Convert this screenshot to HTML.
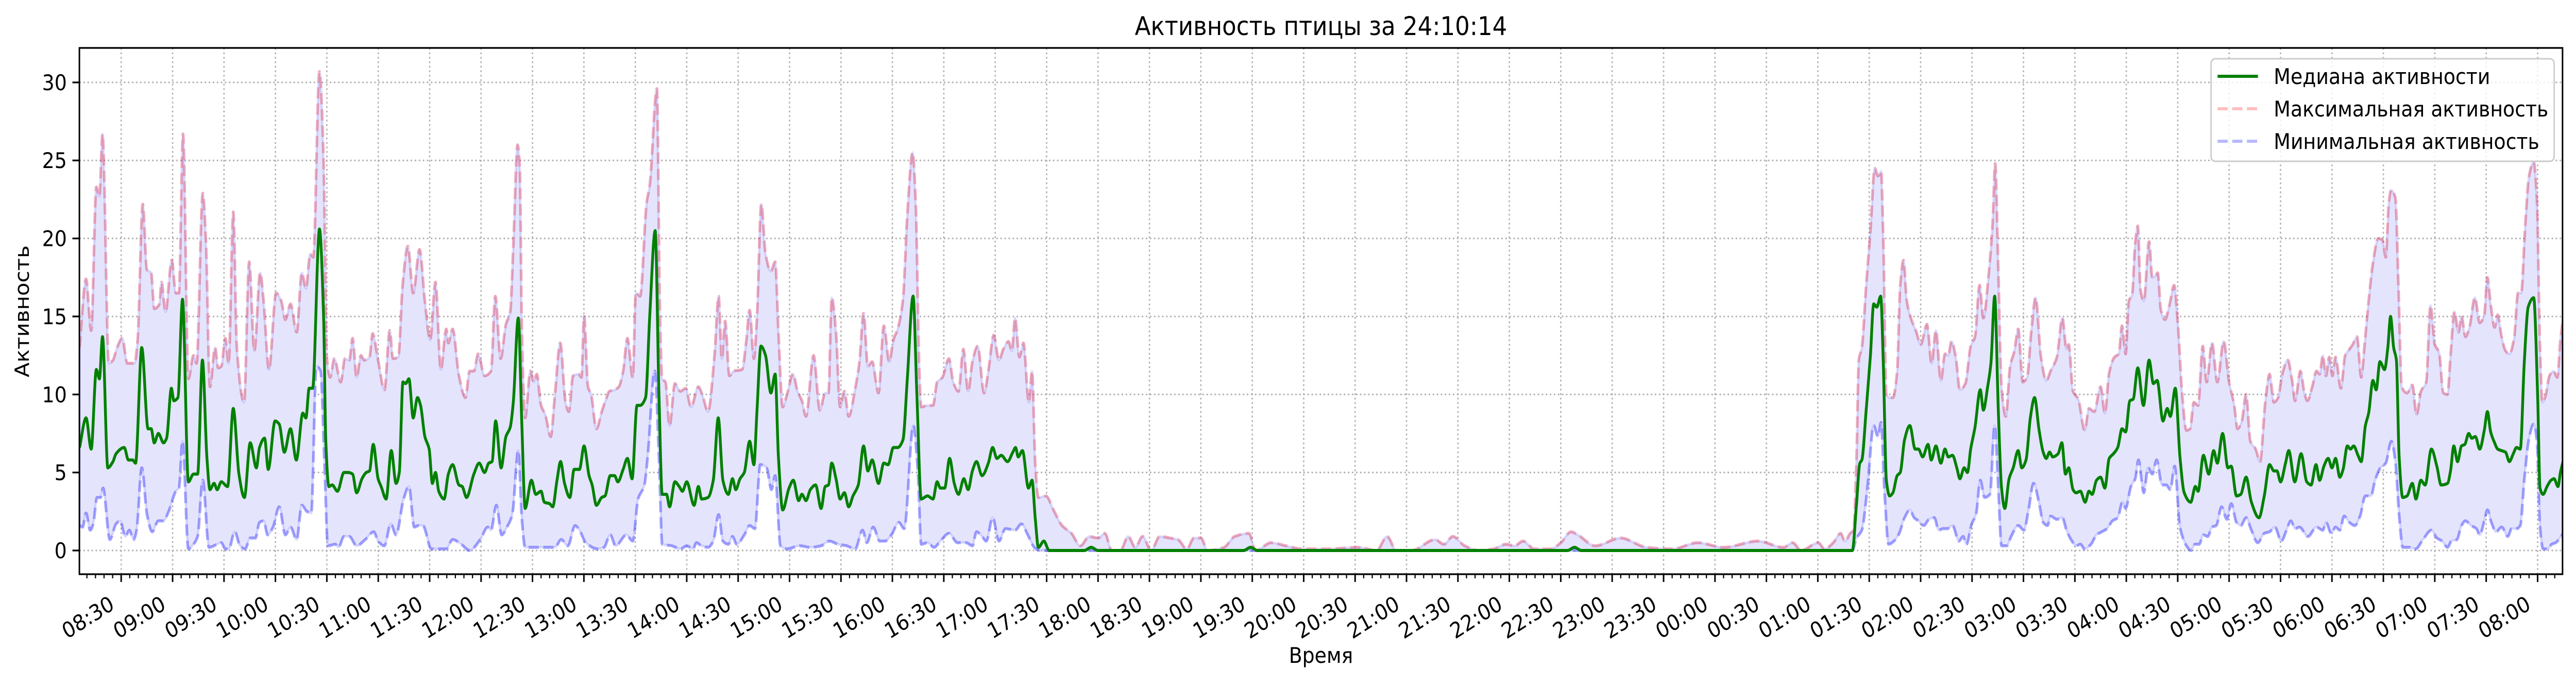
<!DOCTYPE html>
<html><head><meta charset="utf-8"><style>
html,body{margin:0;padding:0;background:#fff;width:100%;height:100%;overflow:hidden;}
svg{display:block;position:fixed;left:0;top:0;width:100vw;height:100vh;font-family:"DejaVu Sans","Liberation Sans",sans-serif;}
</style></head><body>
<svg id="chart" viewBox="0 0 5548 1327" preserveAspectRatio="none" xmlns="http://www.w3.org/2000/svg">
<rect x="0" y="0" width="5548" height="1327" fill="#fff"/>
<defs><clipPath id="plotclip"><rect x="171" y="93" width="5348" height="1021"/></clipPath></defs>
<g id="grid"></g>
<g id="series" clip-path="url(#plotclip)"></g>
<g id="axes"></g>
<text x="2845" y="68" font-size="50" text-anchor="middle">Активность птицы за 24:10:14</text>
<text x="2845" y="1286" font-size="42" text-anchor="middle">Время</text>
<text x="0" y="0" font-size="42" text-anchor="middle" transform="translate(62,604) rotate(-90)">Активность</text>
<g id="legend">
<rect x="4762" y="114" width="739" height="199" rx="9" fill="#fff" fill-opacity="0.8" stroke="#cccccc" stroke-width="3"/>
<line x1="4776" y1="148" x2="4863" y2="148" stroke="green" stroke-width="6"/>
<text x="4897" y="163" font-size="42">Медиана активности</text>
<line x1="4776" y1="211" x2="4863" y2="211" stroke="rgba(255,0,0,0.25)" stroke-width="6" stroke-dasharray="22,9.6"/>
<text x="4897" y="226" font-size="42">Максимальная активность</text>
<line x1="4776" y1="274" x2="4863" y2="274" stroke="rgba(0,0,255,0.28)" stroke-width="6" stroke-dasharray="22,9.6"/>
<text x="4897" y="289" font-size="42">Минимальная активность</text>
</g>
</svg>
<script>
// time in minutes since 08:00 of day 1
const maxT = [5.7,9.5,12.5,15.5,17.3,19.1,22.8,25.2,27.6,30.6,33.6,37.8,39.6,42.6,45,47.5,49.3,52.3,53.5,55.9,59.5,61.9,63.7,66.1,69.2,72.2,74,77.6,79.4,81.8,84.8,86.6,88.4,90.8,92.7,95.4,97.5,101.7,104.7,107.7,111.1,113.1,116.2,120.4,123.4,125.8,128.8,132.4,135.4,137.8,140.3,142.1,145.7,148.1,150,151.9,154.4,158.1,160.6,163.1,165,167.4,169.9,171.8,174.9,176.7,179.9,183.6,186.7,188.6,191.7,194.2,197.3,200.4,204.1,207.2,210.3,213.4,216.5,219.7,220.9,223.4,227.1,230.9,233.3,235.8,238.3,242,245.8,248.3,251.4,254.5,257,258.8,261.3,262.6,263.8,265.7,268.8,270.7,272.5,275,277.5,280.6,283.1,286.2,289.3,291.2,293.7,296.8,298.6,300.1,302.4,304.2,307.3,310.4,312.9,314.8,317.9,320.4,322.9,325.4,328.5,330.3,332.8,336.6,338.4,342.6,344.4,345.7,347.6,350,353.1,356.3,359.4,362.5,366.8,369.3,372.4,376.2,378.6,380.5,382.4,384.9,387.4,392.3,394.8,396.7,399.2,401,403.5,406,409.1,411.6,413.5,416,418.5,422,424.7,427.2,429.6,434,437.7,440.8,442.7,444.6,447.1,449.5,452,454.5,458.3,460.7,463.2,465.7,468.2,471.9,475,478.2,480.6,483.1,486.2,488.7,491.8,493.7,495.6,496.8,500.5,503.7,506.1,509.2,513,515.5,518.6,521.4,524.2,526.7,529.8,533.5,536,539.1,542.2,544.7,547.8,549.7,551.6,554.1,556.5,559.6,561.5,563.4,565.2,569.6,574,579,584.5,589.7,594.8,600,604,608,613,617.6,621.7,626,631,636,642,646.6,651.8,656,660,664,673.5,679.7,688,692,701,709.7,719,733.5,752,762.5,768.7,774,783,796.7,801.8,807,814,822.5,830.8,838,843,848,854.6,864,870,876,880,890,905,920,935,950,965,985,1000,1005.3,1010.3,1020.2,1024,1029,1033.3,1035.8,1038.9,1040.8,1042.6,1043.9,1045.7,1048.2,1050.7,1053.2,1055.1,1056.9,1058.2,1060,1061.9,1063.8,1066.3,1068.1,1070,1071.9,1074.3,1077.5,1080,1083.7,1086.4,1088.9,1091.8,1094.2,1096.1,1098,1100.5,1102.9,1106.1,1109.2,1111.7,1114.4,1116.6,1119.7,1122,1123.5,1125.3,1127.2,1129.7,1132.2,1134.7,1136.9,1139.6,1142.1,1144.6,1147.1,1150.2,1153.3,1155.8,1159.5,1162.7,1165.1,1166.4,1168.9,1172,1175.7,1178.2,1181.3,1185,1187.5,1190,1193.1,1195.6,1197.5,1199.6,1201.5,1203.4,1205.2,1206.7,1208.3,1210.2,1213.3,1215.2,1217,1218.3,1220.2,1222.6,1225.1,1227.9,1230.1,1232.6,1235.1,1237.2,1239.4,1241.9,1244.6,1246.9,1250,1253.1,1256.8,1260,1263,1264.9,1267.4,1269.9,1272.4,1275.5,1278,1281.1,1283.6,1286.1,1288.6,1291,1294.2,1296.6,1298.5,1301.6,1304.1,1305.7,1308.5,1311,1312.8,1314.7,1316.5,1318.4,1320.3,1322.1,1325.2,1327.7,1330.2,1332.1,1334.6,1337.1,1338.9,1341.4,1343.9,1347,1349.5,1351.4,1353.2,1354.5,1357,1358.8,1360.7,1363.8,1366.9,1369.4,1371.9,1375,1377.5,1380,1382.5,1385,1387.4,1389.2,1391.5,1393.8,1395.6,1397.9,1400.2,1403.4,1406.2,1408.9,1410.7,1412.6,1414.9,1416.7,1419,1421.3,1423.5,1426.3,1428.6,1430.4,1432.7,1435,1437.7,1439.6,1441.4,1442.8,1444.6,1446.9,1449.2,1451.5,1453.3,1455.1];
const maxV = [13,17.4,14.1,23.3,22.7,26.7,12,12.2,13,13.6,12,12,13.5,22.2,18,17.8,15.5,15.8,17.2,15.3,18.6,16.5,16.5,26.7,11,12.5,12,22.9,20,10.5,13,11.7,11.8,13.6,12,21.7,13,9.5,18.5,12.8,17.8,16,11.6,16.5,16,14.8,15.8,14,17.8,16.8,19,18.8,30.7,25,12.4,11.1,12.3,10.8,12.3,12.2,13.6,11.1,12.5,12.2,12.4,13.9,12.2,10.3,14.1,12.3,12.4,17,19.5,16.5,19.3,16,13.5,17.2,11.6,14.2,13.3,14.2,11.2,9.8,11.5,11.5,12.6,11.2,11.5,16.3,12.3,14.5,15.3,19.5,26,24.5,14,8.5,11.5,10.8,11.3,9.3,8.7,7.3,10,13.3,9.5,8.9,11.2,11.3,11.1,15,10.5,10,7.8,8.9,9.7,10.2,10.3,10.5,11.5,13.6,11.1,16.5,16.3,22.3,23.4,29.6,15,11,10.8,8,10.7,10.2,10.4,9.2,10.5,9.9,8.9,12.5,16.3,12.3,14.7,11.2,11.5,11.6,13.5,15.4,12.3,15,22.2,19,17.9,18.5,14,9.2,10,11.3,10.2,9.6,8.6,12.5,9,10.1,10.1,16.2,14,9.2,10.2,8.6,10.4,12,15.2,11.8,12.1,10.1,14.4,12.1,13.5,14.2,16.1,21.5,25.5,22,12,9.2,9.3,9.3,10.8,11.1,12.3,10.8,10.2,12.9,10.2,12.1,13.1,10.1,11.5,13.8,12.2,12.9,13.4,12.8,14.9,12.4,13.3,9.5,11.5,5.5,3.4,3.5,2.6,1.6,1.1,0.3,0.9,0.8,1.1,0,0,0.9,0.2,0.9,0,0.9,0.8,0.7,0.1,0.8,0.8,0,0.2,0.9,1.1,0,0.5,0.3,0.1,0.1,0.2,0,0.9,0,0,0.7,0.4,0.9,0.3,0,0.1,0.4,0.3,0.6,0.1,0.1,0.5,1.2,1,0.3,0.8,0.2,0.1,0.5,0.2,0.6,0.2,0.5,0,0.5,0.1,0.5,1.1,0.6,1.1,1.3,6,12.2,13,17,20.5,24.5,24,24.3,20,10,9.8,9.8,11.5,17,18.6,16,14.9,14,13.2,14.5,12,14.1,10.9,12.6,12.5,13.4,12.4,10.3,10.7,13.1,13.7,17,14.9,17.7,21,24.8,18,10.5,8.6,11.8,12.8,14.2,10.8,11.1,14.1,16.2,12.4,10.9,11.5,12.4,14.9,12.9,13.2,10.2,9.7,7.7,9.1,8.9,10.5,8.8,11.4,12.4,12.6,14.4,12.6,16,16.4,19.7,20.8,16.7,16,19.8,17.5,17.6,17.8,15.4,14.8,15.7,17,14.5,10,7.7,7.8,9.5,9.3,13.1,10.8,13.3,10.8,13.4,10.8,9.3,7.8,8.3,10,7,6.5,5.7,9.5,11.3,9.5,9.8,11.3,12.2,11,9.6,11.5,10,9.6,10.5,11.5,11.3,12.5,11.2,12.4,11.2,12.4,10.4,12.5,12.9,13.2,13.7,11.1,13,16,18.4,20,19.9,18.8,22.3,23.1,22.6,17,10.5,10.1,10.6,8.7,10.2,10.8,15.7,13.2,12.7,10.1,10,12.5,15.3,14,15,13.7,14.3,16.2,14.6,15.1,17.5,15.8,14.3,15.1,13.7,12.8,12.6,13.6,16.5,16.5,20.7,24,24.9,22.5,13,9.5,9.9,11.2,11.5,11.1,13.5,15.1];

const medT = [5.7,9.5,12.5,15.5,17.3,19.1,22.2,25.2,27,31.8,34.2,36.6,38.4,42,45.7,47.5,49.3,51.7,54.7,56.5,59.3,60.7,63.1,65.8,69.2,72.2,74.6,77.4,80,81.8,84.2,86,88.4,92.1,95.4,98.7,101.9,105.3,108.9,110.7,113.7,115.8,119.8,122.2,125.2,128.8,132.2,136,137.8,139.7,141.7,145.7,148.1,149.4,151.2,153.1,156.2,160,162.4,165,167.4,170.5,173,174.9,177.1,179.9,181.7,184.6,187.6,190.4,192.3,194.4,196,197.9,200.4,202.9,204.7,207.2,209.7,211.6,213.4,215.3,218.4,220.9,223.4,227.1,229,231.5,235.8,238.9,242,244.5,246.4,248.5,251.7,254.5,257,258.8,261.7,263.8,265.7,269.4,271.9,275,276.9,280,281.8,284.3,286.4,288.7,291.8,294.3,297.4,300.1,303,304.8,307.3,310.4,312.3,315.4,317.9,319.8,322.9,325.4,328.1,331,332.8,336,338.4,341.6,343.8,345.7,348.2,350,353.1,355.6,357.5,360,364.3,366.8,368.7,372.4,375.5,378.4,381.1,384.3,386.7,388.6,391.1,393.6,396.7,399.2,401,403.3,406,409.1,411.6,413.5,416,419.7,422.2,425.3,427.2,429.6,432.1,435.2,438.4,440.8,442.7,444.6,447.1,449.5,452,454.5,457,460.1,463.2,465.7,468.2,471.9,475,477.5,480.6,483.1,486.2,488.7,492.1,494.3,496.8,500.5,503.7,506.1,508,510.5,513.4,516.1,518.6,521.7,524.2,526.7,529.1,532.3,536,538.5,541,543.5,547.2,550.3,551.9,553.4,555.9,559.4,561.5,563.4,565.2,568.4,571.5,592,596,600,685,689,693,874,878,882,1040.1,1042.6,1044.5,1045.7,1048.2,1050.7,1052.6,1054.4,1056.7,1058.2,1060,1061.9,1063.8,1066.3,1068.1,1070.6,1073.7,1076.8,1078.7,1081.2,1084.3,1086.2,1088.9,1091.8,1094.2,1096.1,1098.6,1101.1,1102.9,1105.4,1107.3,1109.2,1111.7,1114.8,1116.6,1119.1,1121,1123.2,1125.3,1127.2,1129.1,1131.6,1134,1136.9,1139,1141.5,1144,1146.5,1149,1151.5,1153.3,1155.2,1157.1,1160.2,1162.4,1164.5,1166.4,1168.9,1170.7,1173.2,1176,1178.2,1180.1,1182.6,1185,1187.5,1190,1192.5,1195,1197.5,1199.6,1202.1,1204,1206.7,1210,1213.3,1215.8,1218,1221.4,1223.9,1225.7,1228.6,1231.3,1233.8,1237.6,1240.3,1241.9,1245,1248.1,1251,1253.1,1256.2,1259.3,1261.2,1264.3,1266.8,1269.9,1273,1277.4,1280.5,1283.6,1286.1,1287.9,1290,1292.9,1294.8,1298.3,1302,1305.3,1307.8,1310.7,1312.8,1315.3,1317.8,1320,1322.1,1324.6,1326.5,1329,1330.8,1332.7,1335.2,1337.1,1339.5,1341.4,1343.9,1345.8,1348,1350.7,1352.6,1354.2,1356,1357.6,1359.2,1361.3,1363.8,1366.9,1369,1371.9,1374.4,1378,1381.2,1383.7,1387.4,1389.2,1391.1,1393.3,1395.6,1397.5,1399.8,1401.6,1403.7,1406.2,1408.9,1410.7,1412.6,1414.9,1416.7,1419,1421.3,1423.5,1425.8,1427.7,1429.9,1432.2,1434.5,1437.7,1440,1441.4,1443.2,1445.5,1447.8,1449.6,1451.9,1453.3,1455.1];
const medV = [6.6,8.5,6.5,11.6,11,13.7,5.3,5.7,6.2,6.6,5.8,5.8,5.6,13,7.8,7.8,6.9,7.5,6.9,7.2,10.4,9.6,9.8,16.1,4.4,4.9,4.9,12.2,6,3.9,4.3,3.9,4.4,4.1,9.1,4.9,3.4,6.9,5.3,6.6,7.2,5.2,8.3,8.1,6.3,7.8,5.8,8.8,8.5,10.4,10.4,20.6,15,7,4.1,4.2,3.8,5,5,4.9,3.7,4.6,5,5.1,6.8,4.6,4.1,3.3,6.4,4.3,5,10.8,10.7,11,8.5,9.8,9.3,7.3,6.5,4.3,5,3.8,3.3,4.9,5.5,4.2,4.1,3.4,4.9,5.6,5,5.6,5.7,8.3,5.3,7.3,7.9,9.5,14.9,8,2.7,4.5,3.6,3.8,3.1,3,2.8,4.5,5.7,4.3,3.4,5.2,5.2,6.7,4.8,4.2,2.9,3.4,3.5,4.8,4.8,4.4,5.2,5.9,4.6,9.3,9.3,9.8,15,20.5,10,3.6,3.6,2.8,4.4,4.1,3.8,4.4,2.9,4.1,3.3,3.4,4.5,8.5,4.5,3.6,4.6,3.9,4.6,5,7,5.5,9,13.1,12.5,10.1,11.3,6,2.6,4,4.5,3.2,3.6,3.2,3.9,4.2,2.7,4.1,4.2,5.6,4.6,3.3,3.7,2.8,3.5,4.2,6.7,5.1,5.8,4.3,5.6,5.5,6.6,6.6,7.1,11,16.3,10,3.3,3.5,3.3,4.4,4,4,5.9,4.3,3.6,4.6,3.9,5.1,5.7,4.8,5.6,6.6,5.9,6.1,5.7,6.3,6.6,6,6.4,4,4.5,2,0.2,0.6,0,0,0.2,0,0,0.2,0,0,0.2,0,0,3,5.6,5.8,9,12.5,15.8,15.6,16.3,12,4.5,3.5,3.7,4.8,5,7.1,8,6.5,6.5,6,6.8,5.8,6.7,5.6,6.5,6,6.1,5.3,4.6,5.3,5,6.5,7.9,10.3,9,10.5,12,16.3,9,4,2.7,4.6,5.3,6.4,5.3,5.8,8.5,9.8,7.8,6.3,5.9,6.3,6,6.2,6.9,4.9,5.3,3.9,3.7,3.8,3.1,3.8,3.6,4.5,4.7,4,5.9,6.2,6.6,7.8,7.6,9.6,9.7,11.7,9.3,12.2,10.7,10.9,8.3,9.1,8.6,10.4,6,3.7,3.1,4.1,3.8,6.1,4.9,6.4,5.6,7.5,5.3,5.4,3.5,3.6,4.7,3.1,2.1,3.5,5.5,5.1,5.1,4.4,5.6,6.4,4.4,6.2,4.4,4.2,5.5,4.5,5.4,5.9,5.3,5.9,4.7,5.2,6.7,6.5,6.7,6.1,5.7,8,8.8,10.9,10.3,12.1,11.6,13,15,13,12.2,6,3.4,3.5,4.3,3.3,4.5,4.2,6.5,5.4,4.2,4.3,5.1,6.7,5.7,6.7,6.8,7.5,7.2,7.3,6.5,7.7,8.9,7.6,6.9,6.5,6.4,6.3,5.7,6.2,6.6,6.5,12,15.6,16.2,10,4,3.6,4.1,4.5,4.6,4.1,5,5.8];

const minT = [5.7,7.5,9.5,11.9,13.7,15.9,18,19.4,23.4,27,29.4,32.4,34.8,37.2,39,42,45.1,48.1,51.7,54.7,57.7,61.9,63.7,65.8,69.2,72.2,74.6,77.6,81.2,86,88.4,90.8,92.7,96.3,99.3,102.3,105.3,108.3,110.7,113.1,115.5,118.6,122.2,125.8,128.8,132.4,135.4,138.4,140.9,143.9,146.3,148.8,150.6,155,156.8,160,163.1,167.4,172.4,177.4,179.9,183.6,187.3,190.4,194.8,197.9,201,203.5,206,211,216,219.7,223.4,228.4,233.3,239.5,243.9,245.8,248.9,252,255.1,258.2,261.7,263.8,265.7,270.7,276.9,283.1,286.8,290.6,294.9,297.4,301.1,308,311.7,315.4,318.5,324.8,328.5,331.6,335.3,337.2,341.3,343.8,345.7,351.3,356.3,360,363.7,365.6,368.7,372.4,375.5,378.6,381.1,384.3,386.7,389.2,393.6,396.7,399.8,402.9,406.6,409.4,411.6,414.7,418.5,425.9,432.1,438.4,443.3,448.3,453.3,458.3,462.6,465.1,468.8,472.6,475.7,479.4,483.8,486.9,492.2,494.9,496.8,500.5,504.3,508,513,518,523,526.7,529.1,532.3,534.8,538.5,542.2,546,551.6,555.3,559,562.8,565.9,1040.1,1042.6,1045.7,1048.9,1052.6,1055.1,1056.9,1058.8,1061.3,1064.4,1067.5,1070.6,1073.7,1076.2,1078.7,1081.8,1084.9,1088,1090.5,1093,1095.5,1098.6,1102.3,1104.8,1106.7,1109.8,1112.3,1114.8,1117.3,1120.4,1123.2,1125.3,1127.2,1130.3,1132.8,1136.9,1140.3,1142.8,1145.9,1149,1151.5,1154,1155.8,1159.5,1162.7,1165.1,1168.3,1170.7,1173.2,1175.7,1179.4,1182.6,1185.7,1188.8,1191.9,1195,1197.8,1199.6,1202.7,1205.2,1207.1,1210.2,1212.7,1215.2,1217.7,1220.8,1223.3,1225.7,1228.2,1231.3,1235.1,1237.6,1240.1,1242.5,1245,1247.5,1250,1252.5,1255.6,1258.7,1261.2,1264.3,1266.8,1269.9,1273,1276.7,1280.5,1283.6,1286.7,1290.4,1293.5,1296,1298.5,1301,1306,1310.9,1314.7,1316.5,1319.6,1322.1,1324.6,1327.1,1330.2,1333.3,1336.4,1339.5,1342.7,1345.2,1348.3,1351.4,1354.7,1357,1359.4,1361.3,1365,1368.8,1373.1,1378,1381.2,1384.3,1387.4,1389.7,1392.9,1395.6,1397.9,1401.1,1404.3,1406.2,1408.9,1410.7,1413,1415.8,1419,1422.6,1424.9,1427.7,1429.9,1432.2,1435,1437.7,1439.6,1441.4,1443.2,1446,1448.2,1450.5,1455.1];
const minV = [1.6,1.5,2.4,1.3,1.7,3.4,3.4,4,0.7,1.7,1.9,0.9,1.3,0.7,1.3,5.3,2.3,1.2,1.9,1.9,2.5,3.8,4,7,0.1,0.4,0.9,4.5,0.2,0.4,0.5,0.1,0.1,1.2,0.3,0.1,0.8,0.8,1.8,1.9,1,1.5,2.8,1,1.5,0.7,2.9,2.5,2.4,11.8,11.5,5,0.3,0.4,0.2,0.9,0.9,0.3,0.7,1.2,0.6,0.3,1.7,1,3.3,4.1,1.5,1.6,1.6,0.1,0.1,0.1,0.7,0.4,0,0.7,1.5,1.3,2.9,1,1.5,2.3,6.4,2,0.2,0.2,0.2,0.2,0.7,0.3,1.6,1.3,0.5,0.1,0.2,1,0.3,1,0.6,3.3,4.2,6,11.5,6,0.4,0.3,0.1,0.3,0.1,0.5,0.3,0.2,0.6,2.3,0.6,0.4,0.9,0.4,1,1.6,1.4,5.5,5.3,3.9,4.8,0.3,0.1,0.3,0.2,0.3,0.6,0.4,0.3,0.1,1.3,0.5,1.5,0.6,0.6,1,1.8,1.4,8,5,0.4,0.5,0.2,0.6,1.1,0.5,0.5,0.3,1.2,0.9,0.6,2.1,0.6,1.4,1.3,1.7,1,0.2,0,0,0.8,1.3,4,8,7.3,8.2,4,0.4,0.6,1.1,2.1,2.6,2.1,1.9,1.6,2,2.1,1.3,1.4,1.4,1.6,0.6,0.9,0.4,1.7,2.3,4.5,3.4,3.6,8,4,0.3,0.3,0.9,1.6,1.3,2.5,4.3,3.1,1.8,1.6,2.2,2,2.1,1.3,0.6,0.3,0.4,0.1,0.4,1,1.2,1.4,1.9,2.1,3.1,2.7,4.1,4.6,5.8,3.7,5.3,4.9,5.8,4.2,4.2,3.9,5.4,1.5,0.3,0,0.4,0.4,1,0.9,1.5,1.6,2.8,2,3,1.8,1.6,2.1,1.3,0.5,1.1,1.2,1.5,0.6,1.3,1.9,1.4,1.5,0.9,1.5,1.3,1.8,1.1,1.5,1.3,2.2,1.8,1.6,2.2,3.5,3.5,4.5,5.3,5.6,7,5.7,2,0.2,0.2,0.1,0.7,1.3,0.8,0.6,0.2,0.6,0.7,1.6,1.9,1.6,1.4,1,1.9,2.6,1.8,1.2,1.5,0.9,1.4,1.4,1.6,4.5,7.2,8.1,7,1.5,0.1,0.1,0.4,0.5,1.1];

const yTicks = [0,5,10,15,20,25,30];
const xTickLabels = ["08:30","09:00","09:30","10:00","10:30","11:00","11:30","12:00","12:30","13:00","13:30","14:00","14:30","15:00","15:30","16:00","16:30","17:00","17:30","18:00","18:30","19:00","19:30","20:00","20:30","21:00","21:30","22:00","22:30","23:00","23:30","00:00","00:30","01:00","01:30","02:00","02:30","03:00","03:30","04:00","04:30","05:00","05:30","06:00","06:30","07:00","07:30","08:00"];

const NS = "http://www.w3.org/2000/svg";
const L = 171, R = 5519, T = 93, B = 1114;
const pxPerMin = 3.691;
function xs(t){ return 261 + (t - 30) * pxPerMin; }
function ys(v){ return 1068 - v * 30.27; }
function mk(tag, attrs, parent){
  const e = document.createElementNS(NS, tag);
  for (const k in attrs) e.setAttribute(k, attrs[k]);
  parent.appendChild(e);
  return e;
}
function pts(T_, V_){ return T_.map((t,i)=>[xs(t), ys(V_[i])]); }
// monotone cubic (Fritsch-Carlson) path, no overshoot, no loops
function smooth(p, reverse){
  const n = p.length;
  const dx = [], s = [], m = new Array(n);
  for (let i = 0; i < n-1; i++){ dx[i] = p[i+1][0]-p[i][0]; s[i] = (p[i+1][1]-p[i][1]) / (dx[i] || 1e-6); }
  m[0] = s[0]; m[n-1] = s[n-2];
  for (let i = 1; i < n-1; i++){
    if (s[i-1]*s[i] <= 0) m[i] = 0;
    else { const w1 = 2*dx[i]+dx[i-1], w2 = dx[i]+2*dx[i-1]; m[i] = (w1+w2)/(w1/s[i-1]+w2/s[i]); }
  }
  const segs = [];
  for (let i = 0; i < n-1; i++){
    const h = dx[i]/3;
    segs.push([p[i], [p[i][0]+h, p[i][1]+m[i]*h], [p[i+1][0]-h, p[i+1][1]-m[i+1]*h], p[i+1]]);
  }
  const f = q => q[0].toFixed(1)+","+q[1].toFixed(1);
  if (!reverse){
    let d = "M" + f(p[0]);
    segs.forEach(sg => { d += " C" + f(sg[1]) + " " + f(sg[2]) + " " + f(sg[3]); });
    return d;
  } else {
    let d = "";
    for (let i = segs.length-1; i >= 0; i--){ const sg = segs[i]; d += " C" + f(sg[2]) + " " + f(sg[1]) + " " + f(sg[0]); }
    return d;
  }
}

const grid = document.getElementById("grid");
const series = document.getElementById("series");
const axes = document.getElementById("axes");

yTicks.forEach(v => {
  const g = mk("line", {x1:L, x2:R, y1:ys(v), y2:ys(v), stroke:"#b0b0b0", "stroke-width":3, "stroke-dasharray":"3.3,5.4"}, grid);
  
  
});
xTickLabels.forEach((lab, i) => {
  const x = xs(30 + i*30);
  const g = mk("line", {x1:x, x2:x, y1:T, y2:B, stroke:"#b0b0b0", "stroke-width":3, "stroke-dasharray":"3.3,5.4"}, grid);
  
  
});

const maxP = pts(maxT, maxV), minP = pts(minT, minV);
const lastMin = minP[minP.length-1];
const fillD = smooth(maxP) + " L" + lastMin[0].toFixed(1) + "," + lastMin[1].toFixed(1) + smooth(minP, true) + " Z";
const fill = mk("path", {d:fillD, fill:"rgb(228,228,252)", stroke:"rgba(0,0,255,0.12)", "stroke-width":5}, series);



const maxLine = mk("path", {d:smooth(maxP), fill:"none", stroke:"rgba(255,0,0,0.25)", "stroke-width":6, "stroke-dasharray":"22,9.6"}, series);



const minLine = mk("path", {d:smooth(minP), fill:"none", stroke:"rgba(0,0,255,0.28)", "stroke-width":6, "stroke-dasharray":"22,9.6"}, series);



const medLine = mk("path", {d:smooth(pts(medT, medV)), fill:"none", stroke:"green", "stroke-width":6, "stroke-linejoin":"round"}, series);



const frame = mk("rect", {x:L, y:T, width:R-L, height:B-T, fill:"none", stroke:"#000", "stroke-width":3.3}, axes);



yTicks.forEach(v => {
  const tk = mk("line", {x1:L-15, x2:L, y1:ys(v), y2:ys(v), stroke:"#000", "stroke-width":3.3}, axes);
  
  
  const tx = mk("text", {x:L-27, y:ys(v)+15, "font-size":42, "text-anchor":"end"}, axes);
  tx.textContent = String(v);
  
  
});

for (let m = 10; m <= 1450; m += 5){
  if (m % 30 === 0) continue;
  const x = xs(m);
  if (x < L || x > R) continue;
  const mt = mk("line", {x1:x, x2:x, y1:B, y2:B+8, stroke:"#000", "stroke-width":2.5}, axes);
  
  
}
xTickLabels.forEach((lab, i) => {
  const x = xs(30 + i*30);
  const tk = mk("line", {x1:x, x2:x, y1:B, y2:B+15, stroke:"#000", "stroke-width":3.3}, axes);
  
  
  const tx = mk("text", {x:0, y:0, "font-size":42, "text-anchor":"end", transform:"translate(" + (x-12).toFixed(1) + ",1180) rotate(-30)"}, axes);
  tx.textContent = lab;
  
  
});
</script>
</body></html>
